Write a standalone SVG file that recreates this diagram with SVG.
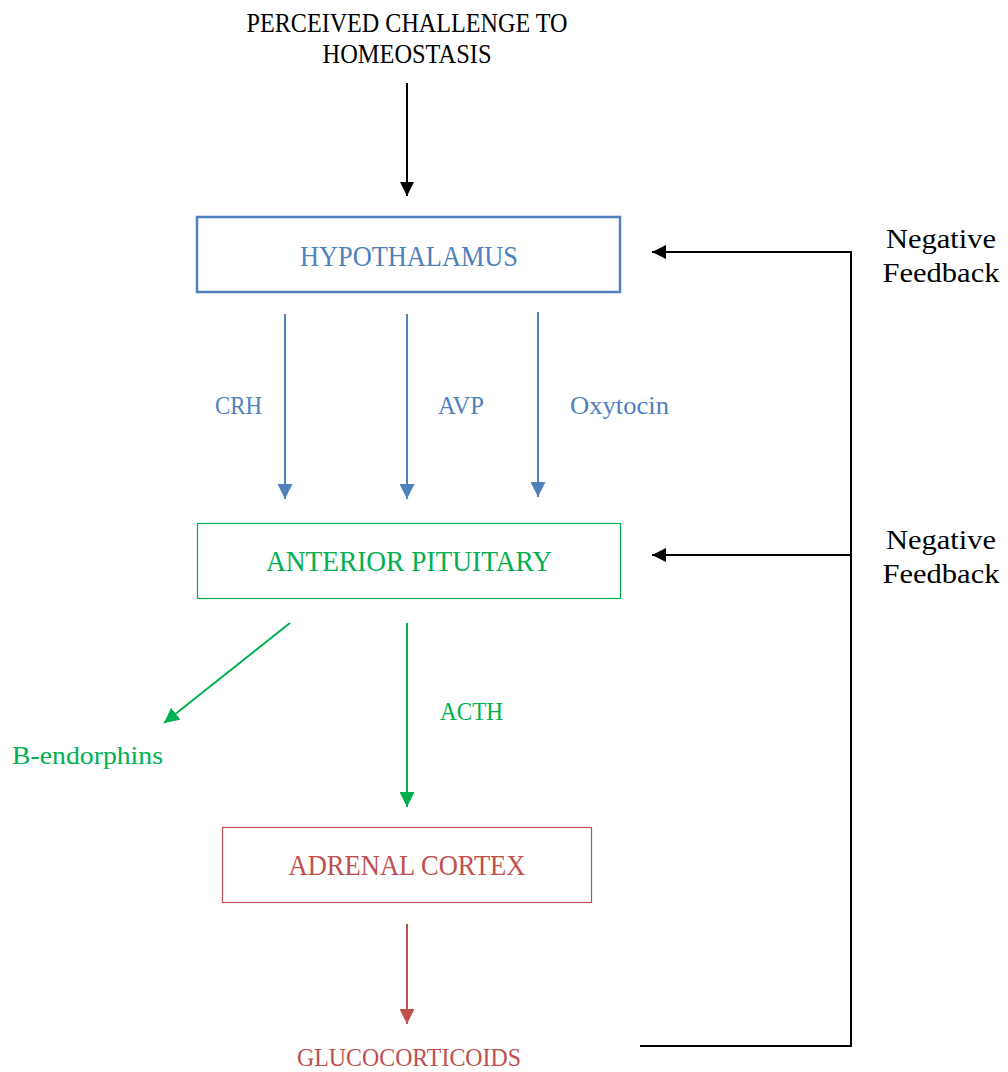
<svg xmlns="http://www.w3.org/2000/svg" width="1008" height="1072" viewBox="0 0 1008 1072">
<defs>
<style>
text{font-family:"Liberation Serif","DejaVu Serif",serif;}
.t{font-size:28px;fill:#000;}
.b{fill:#4F81BD;}
.g{fill:#00B050;}
.r{fill:#C0504D;}
.lab{font-size:25px;}
.big{font-size:29px;}
</style>
<marker id="ak" viewBox="0 0 10 10" refX="10" refY="5" markerWidth="14" markerHeight="14" markerUnits="userSpaceOnUse" orient="auto"><path d="M0,0L10,5L0,10z" fill="#000"/></marker>
<marker id="ab" viewBox="0 0 10 10" refX="10" refY="5" markerWidth="15" markerHeight="15" markerUnits="userSpaceOnUse" orient="auto"><path d="M0,0L10,5L0,10z" fill="#4F81BD"/></marker>
<marker id="ag" viewBox="0 0 10 10" refX="10" refY="5" markerWidth="15" markerHeight="15" markerUnits="userSpaceOnUse" orient="auto"><path d="M0,0L10,5L0,10z" fill="#00B050"/></marker>
<marker id="ar" viewBox="0 0 10 10" refX="10" refY="5" markerWidth="15" markerHeight="15" markerUnits="userSpaceOnUse" orient="auto"><path d="M0,0L10,5L0,10z" fill="#C0504D"/></marker>
</defs>
<rect width="1008" height="1072" fill="#fff"/>
<g id="challenge">
<text class="t" x="407" y="32" text-anchor="middle" textLength="321" lengthAdjust="spacingAndGlyphs">PERCEIVED CHALLENGE TO</text>
<text class="t" x="407" y="63" text-anchor="middle" textLength="169" lengthAdjust="spacingAndGlyphs">HOMEOSTASIS</text>
</g>
<g id="hypothalamus">
<rect x="197" y="217" width="423" height="75" fill="none" stroke="#4F81BD" stroke-width="2.5"/>
<text class="b big" x="409" y="266" text-anchor="middle" textLength="218" lengthAdjust="spacingAndGlyphs">HYPOTHALAMUS</text>
</g>
<g id="anterior-pituitary">
<rect x="197.5" y="523.5" width="423" height="75" fill="none" stroke="#00B050" stroke-width="1.2"/>
<text class="g big" x="409" y="571" text-anchor="middle" textLength="286" lengthAdjust="spacingAndGlyphs">ANTERIOR PITUITARY</text>
</g>
<g id="adrenal-cortex">
<rect x="222.5" y="827.5" width="369" height="75" fill="none" stroke="#C0504D" stroke-width="1.2"/>
<text class="r big" x="407" y="875" text-anchor="middle" textLength="237" lengthAdjust="spacingAndGlyphs">ADRENAL CORTEX</text>
</g>
<g id="glucocorticoids">
<text class="r lab" x="409" y="1066" text-anchor="middle" textLength="224" lengthAdjust="spacingAndGlyphs">GLUCOCORTICOIDS</text>
</g>
<g id="b-endorphins">
<text class="g lab" x="12" y="764" textLength="151" lengthAdjust="spacingAndGlyphs">B-endorphins</text>
</g>
<g id="feedback-labels">
<text class="t" x="941" y="248" text-anchor="middle" textLength="110" lengthAdjust="spacingAndGlyphs">Negative</text>
<text class="t" x="941" y="282" text-anchor="middle" textLength="117" lengthAdjust="spacingAndGlyphs">Feedback</text>
<text class="t" x="941" y="549" text-anchor="middle" textLength="110" lengthAdjust="spacingAndGlyphs">Negative</text>
<text class="t" x="941" y="583" text-anchor="middle" textLength="117" lengthAdjust="spacingAndGlyphs">Feedback</text>
</g>
<g id="connectors" fill="none">
<line x1="407" y1="83" x2="407" y2="196" stroke="#000" stroke-width="2" marker-end="url(#ak)"/>
<line x1="285" y1="314" x2="285" y2="499" stroke="#4F81BD" stroke-width="2" marker-end="url(#ab)"/>
<line x1="407" y1="314" x2="407" y2="499" stroke="#4F81BD" stroke-width="2" marker-end="url(#ab)"/>
<line x1="538" y1="312" x2="538" y2="497" stroke="#4F81BD" stroke-width="2" marker-end="url(#ab)"/>
<text class="b lab" x="215" y="414" textLength="47" lengthAdjust="spacingAndGlyphs">CRH</text>
<text class="b lab" x="438" y="414" textLength="46" lengthAdjust="spacingAndGlyphs">AVP</text>
<text class="b lab" x="570" y="414" textLength="99" lengthAdjust="spacingAndGlyphs">Oxytocin</text>
<line x1="290" y1="623" x2="164" y2="723" stroke="#00B050" stroke-width="2" marker-end="url(#ag)"/>
<line x1="407" y1="623" x2="407" y2="807" stroke="#00B050" stroke-width="2" marker-end="url(#ag)"/>
<text class="g lab" x="440" y="720" textLength="63" lengthAdjust="spacingAndGlyphs">ACTH</text>
<line x1="407" y1="924" x2="407" y2="1024" stroke="#C0504D" stroke-width="2" marker-end="url(#ar)"/>
<polyline points="640,1046 851,1046 851,252 652,252" stroke="#000" stroke-width="2" marker-end="url(#ak)"/>
<line x1="851" y1="555" x2="652" y2="555" stroke="#000" stroke-width="2" marker-end="url(#ak)"/>
</g>
</svg>
